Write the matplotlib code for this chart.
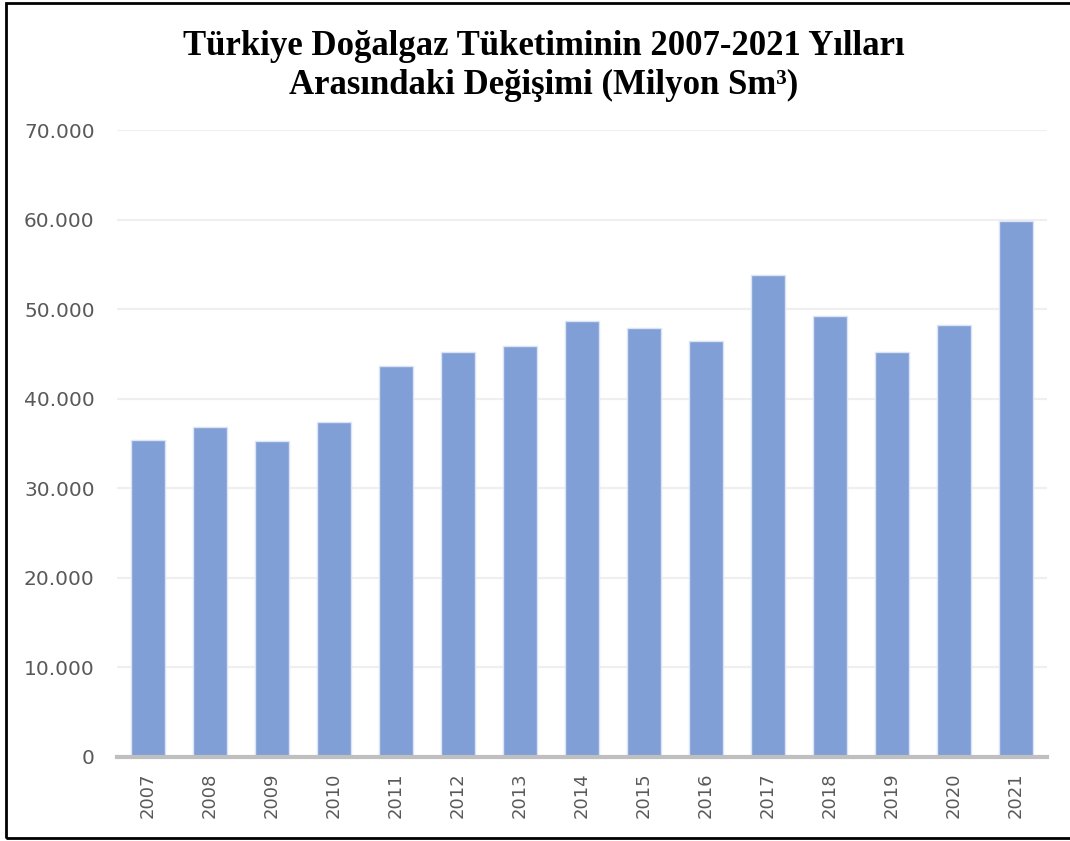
import matplotlib
matplotlib.use("Agg")
import matplotlib.pyplot as plt
from matplotlib.patches import Rectangle
from matplotlib.ticker import FuncFormatter

years = ["2007", "2008", "2009", "2010", "2011", "2012", "2013", "2014",
         "2015", "2016", "2017", "2018", "2019", "2020", "2021"]
consumption = [35400, 36850, 35250, 37400, 43650, 45220, 45890, 48680,
               47900, 46440, 53810, 49240, 45220, 48230, 59840]
title = "Türkiye Doğalgaz Tüketiminin 2007-2021 Yılları\nArasındaki Değişimi (Milyon Sm³)"

fig = plt.figure(figsize=(10.7, 8.41), dpi=100)
ax = fig.add_axes([0.1093, 0.0999, 0.8692, 0.7455])

x = range(len(years))
ax.bar(x, consumption, width=0.56, color="#7f9fd6", edgecolor="#dbe4f4",
       linewidth=1.0, zorder=3)

ax.set_xlim(-0.5, len(years) - 0.5)
ax.set_ylim(0, 70000)
ax.set_yticks(range(0, 70001, 10000))
ax.yaxis.set_major_formatter(FuncFormatter(lambda v, p: f"{int(v):,}".replace(",", ".")))
ax.set_xticks(list(x))
ax.set_xticklabels(years, rotation=90)

ax.grid(axis="y", color="#efefef", linewidth=1.6, zorder=0)
ax.set_axisbelow(True)
for s in ["top", "right", "left"]:
    ax.spines[s].set_visible(False)
ax.spines["bottom"].set_color("#bfbfbf")
ax.spines["bottom"].set_linewidth(3)
ax.spines["bottom"].set_zorder(4)

ax.tick_params(axis="y", length=0, pad=16, labelsize=14.5, labelcolor="#595959")
ax.tick_params(axis="x", length=0, pad=11, labelsize=13, labelcolor="#595959")

fig.text(0.508, 0.9215, title, ha="center", va="center", fontsize=25,
         fontweight="bold", family="Liberation Serif", linespacing=1.2)

fig.patches.append(Rectangle((6 / 1070, 1 - 838 / 841), 1.1, (838 - 3) / 841,
                             transform=fig.transFigure, fill=False,
                             edgecolor="black", linewidth=2))

fig.savefig("out.png", dpi=100)
